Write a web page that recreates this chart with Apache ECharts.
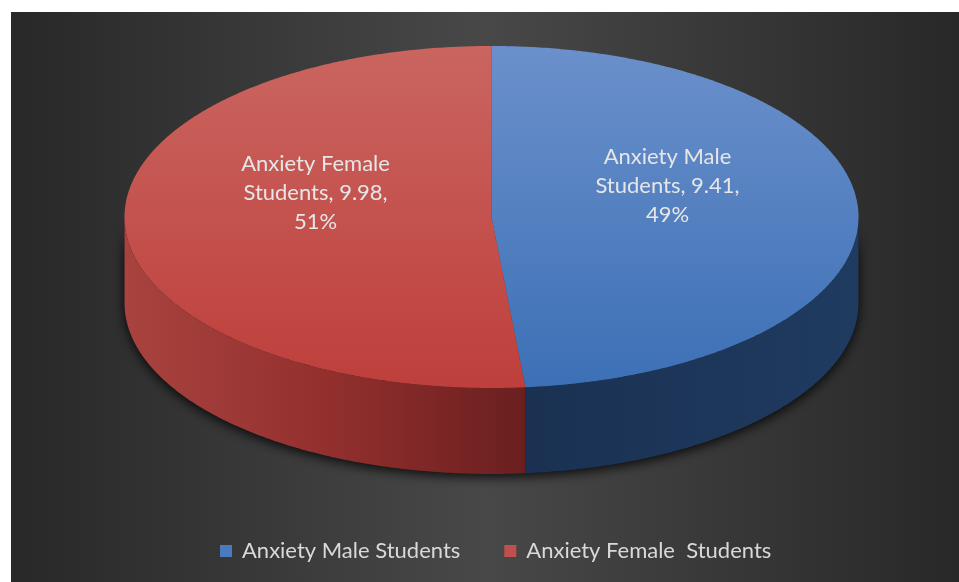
<!DOCTYPE html>
<html><head><meta charset="utf-8">
<script src="https://cdn.jsdelivr.net/npm/echarts@6/dist/echarts.min.js"></script>
<style>html,body{margin:0;padding:0;background:#fff}#c{width:959px;height:582px}</style>
</head><body><div id="c"></div>
<script>
// ---- data ----
const categories = ['Anxiety Male Students', 'Anxiety Female  Students'];
const values = [9.41, 9.98];

// ---- styles ----
const legendColors = ['#4a7bbf', '#c0504d'];
const topColors = [['#6b90cb', '#3c70b6'], ['#ca6560', '#be3f3b']];
const wallColors = [['#1a3152', '#1f3b60'], ['#a8433f', '#93302e', '#6a1f1f']];

// ---- layout ----
const CX = 491.5, CY = 217, RX = 367, RY = 171, DEPTH = 86;
const FONT = 'Lato';

function pt(phi, dy) {
  const a = phi * Math.PI / 180;
  return [CX + RX * Math.sin(a), CY - RY * Math.cos(a) + (dy || 0)];
}
function arc(s, e, dy) {
  const n = Math.max(2, Math.ceil(Math.abs(e - s) * 2));
  const out = [];
  for (let i = 0; i <= n; i++) out.push(pt(s + (e - s) * i / n, dy));
  return out;
}
const total = values.reduce((a, b) => a + b, 0);

function gradStops(cols) {
  return cols.map((c, i) => ({ offset: i / (cols.length - 1), color: c }));
}

function makeRender(idx) {
  return function (params, api) {
    const v = api.value(0);
    let before = 0;
    for (let k = 0; k < idx; k++) before += values[k];
    const start = before / total * 360;
    const end = start + v / total * 360;
    const children = [];
    if (idx === 0) {
      children.push({
        type: 'polygon',
        shape: { points: arc(90, 270, 0).concat(arc(90, 270, DEPTH).reverse()) },
        style: { fill: '#151515', shadowBlur: 12, shadowColor: 'rgba(0,0,0,0.85)', shadowOffsetY: 3 }
      });
    }
    const ws = Math.max(start, 90), we = Math.min(end, 270);
    if (ws < we) {
      children.push({
        type: 'polygon',
        shape: { points: arc(ws, we, 0).concat(arc(ws, we, DEPTH).reverse()) },
        style: { fill: new echarts.graphic.LinearGradient(0, 0, 1, 0, gradStops(wallColors[idx])) }
      });
    }
    children.push({
      type: 'polygon',
      shape: { points: [[CX, CY]].concat(arc(start, end, 0)) },
      style: { fill: new echarts.graphic.LinearGradient(0, 0, 0, 1, gradStops(topColors[idx])) }
    });
    const mid = (start + end) / 2 * Math.PI / 180;
    const lx = CX + RX * 0.48 * Math.sin(mid);
    const ly = CY - RY * 0.48 * Math.cos(mid) - 27.5;
    const name = categories[idx].replace(/\s+/g, ' ');
    const pct = Math.round(v / total * 100);
    const label = name.replace(/ Students$/, '\nStudents') + ', ' + v + ',\n' + pct + '%';
    children.push({
      type: 'text',
      style: {
        text: label, x: lx, y: ly, fill: '#e6e6e6', fontSize: 22, fontFamily: FONT,
        align: 'center', verticalAlign: 'middle', lineHeight: 29
      }
    });
    return { type: 'group', children };
  };
}

const chart = echarts.init(document.getElementById('c'));
chart.setOption({
  backgroundColor: '#ffffff',
  animation: false,
  graphic: [{
    type: 'rect', z: -10, silent: true,
    shape: { x: 11, y: 12, width: 948, height: 570 },
    style: {
      fill: new echarts.graphic.LinearGradient(0, 0, 1, 0, [
        { offset: 0, color: '#282828' },
        { offset: 0.5, color: '#484848' },
        { offset: 1, color: '#282828' }
      ])
    }
  }],
  legend: {
    data: categories,
    bottom: 15,
    left: 215,
    icon: 'rect',
    itemWidth: 12, itemHeight: 12,
    itemGap: 44,
    textStyle: { color: '#d9d9d9', fontSize: 22, fontFamily: FONT, padding: [0, 0, 0, 5] }
  },
  series: categories.map((name, i) => ({
    type: 'custom',
    name: name,
    coordinateSystem: 'none',
    silent: true,
    itemStyle: { color: legendColors[i] },
    data: [[values[i]]],
    renderItem: makeRender(i)
  }))
});
</script>
</body></html>
